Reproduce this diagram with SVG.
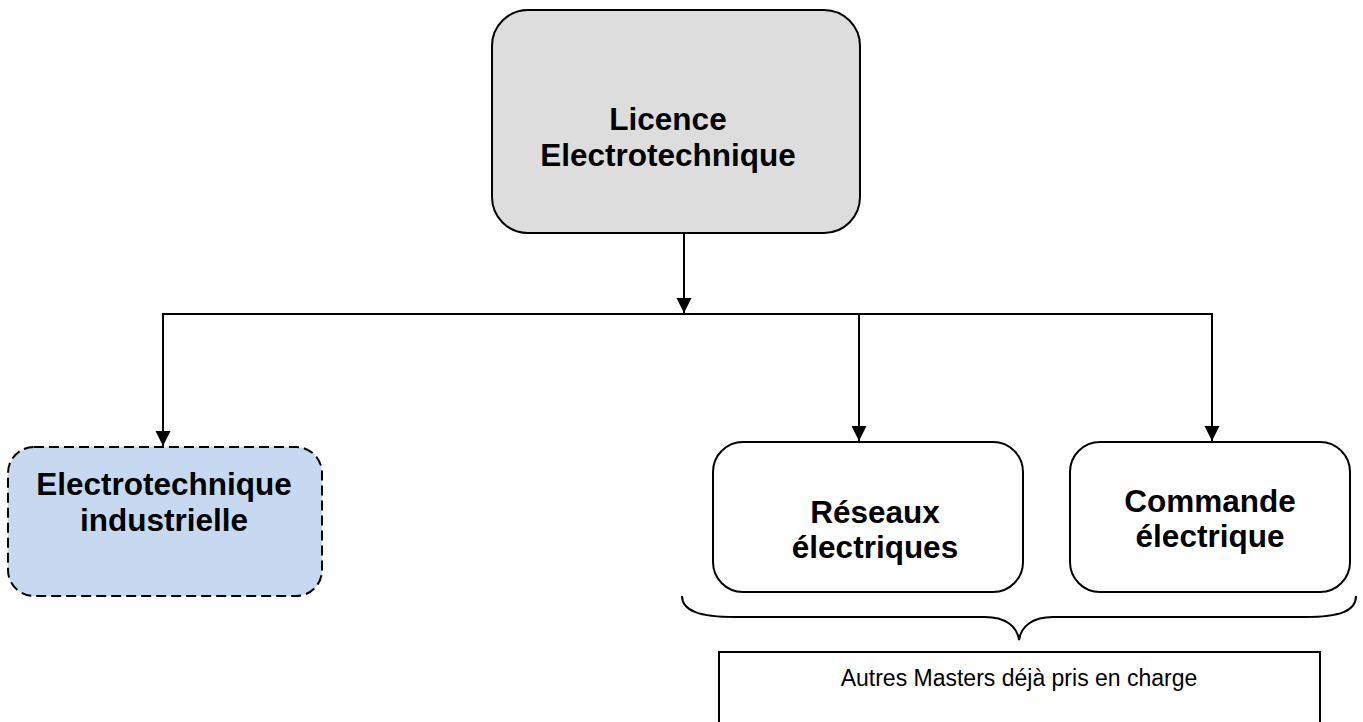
<svg xmlns="http://www.w3.org/2000/svg" width="1363" height="722" viewBox="0 0 1363 722">
<style>
.box{stroke:#000;stroke-width:2}
.t{font-family:"Liberation Sans",Arial,sans-serif;font-weight:bold;font-size:31.5px;text-anchor:middle;fill:#000}
.s{font-family:"Liberation Sans",Arial,sans-serif;font-size:23px;text-anchor:middle;fill:#000}
.c{fill:none;stroke:#000;stroke-width:2}
</style>
<defs>
<marker id="ah" markerUnits="userSpaceOnUse" markerWidth="16" markerHeight="16" refX="15" refY="7.5" orient="auto">
<path d="M0,0 L15,7.5 L0,15 Z" fill="#000"/>
</marker>
</defs>
<g id="connectors">
<line class="c" x1="684" y1="233" x2="684" y2="313" marker-end="url(#ah)"/>
<line class="c" x1="162" y1="314" x2="1213" y2="314"/>
<line class="c" x1="163" y1="314" x2="163" y2="446" marker-end="url(#ah)"/>
<line class="c" x1="859" y1="314" x2="859" y2="441" marker-end="url(#ah)"/>
<line class="c" x1="1212" y1="314" x2="1212" y2="441" marker-end="url(#ah)"/>
</g>
<g id="licence">
<rect class="box" x="492" y="10" width="368" height="223" rx="36" fill="#dddddd"/>
<text class="t" x="668" y="130">Licence</text>
<text class="t" x="668" y="166">Electrotechnique</text>
</g>
<g id="industrielle">
<rect class="box" x="8" y="447" width="314" height="149" rx="26" fill="#c6d9f0" stroke-dasharray="10,5"/>
<text class="t" x="164" y="495">Electrotechnique</text>
<text class="t" x="164" y="531">industrielle</text>
</g>
<g id="reseaux">
<rect class="box" x="713" y="442" width="310" height="150" rx="30" fill="#fff"/>
<text class="t" x="875" y="523">Réseaux</text>
<text class="t" x="875" y="558">électriques</text>
</g>
<g id="commande">
<rect class="box" x="1070" y="442" width="280" height="150" rx="30" fill="#fff"/>
<text class="t" x="1210" y="512">Commande</text>
<text class="t" x="1210" y="547">électrique</text>
</g>
<g id="brace">
<path class="c" d="M682,596 C682,611 700,617 735,617 L985,617 C1005,617 1017,626 1019,640 C1021,626 1033,617 1053,617 L1305,617 C1340,617 1356,611 1356,596"/>
</g>
<g id="autres">
<rect class="box" x="719" y="652" width="601" height="90" fill="#fff"/>
<text class="s" x="1019" y="686">Autres Masters déjà pris en charge</text>
</g>
</svg>
